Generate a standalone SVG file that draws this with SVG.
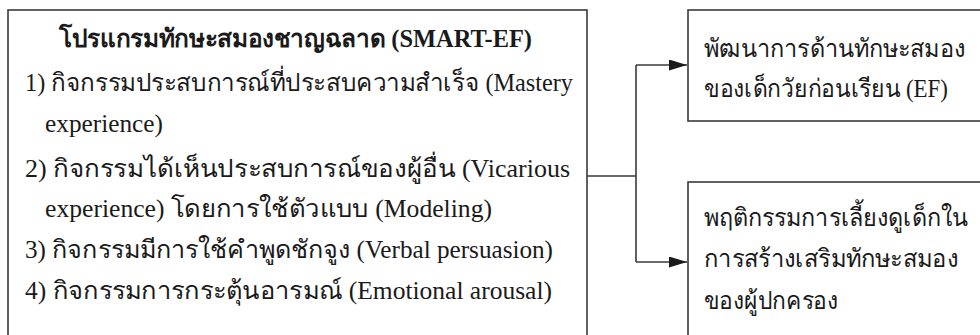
<svg xmlns="http://www.w3.org/2000/svg" width="980" height="335" viewBox="0 0 980 335">
<defs>
<style>
.box{fill:#fff;stroke:#3a3a3a;stroke-width:1.6}
.t{font-family:"Liberation Serif","DejaVu Serif",serif;font-size:25px;fill:#1a1a1a}
.b{font-weight:bold}
.c{fill:none;stroke:#3a3a3a;stroke-width:1.6}
</style>
<marker id="ah" viewBox="0 0 18 11" refX="18" refY="5.5" markerWidth="18" markerHeight="11" markerUnits="userSpaceOnUse" orient="auto">
<path d="M0,0 L18,5.5 L0,11 Z" fill="#1a1a1a"/>
</marker>
</defs>
<rect width="980" height="335" fill="#fff"/>
<g id="program">
<rect class="box" x="8" y="10" width="579" height="340"/>
<text class="t b" x="59" y="47" textLength="473" lengthAdjust="spacingAndGlyphs">โปรแกรมทักษะสมองชาญฉลาด (SMART-EF)</text>
<text class="t" x="25" y="91" textLength="548" lengthAdjust="spacingAndGlyphs">1) กิจกรรมประสบการณ์ที่ประสบความสำเร็จ (Mastery</text>
<text class="t" x="45" y="132" textLength="118" lengthAdjust="spacingAndGlyphs">experience)</text>
<text class="t" x="25" y="177" textLength="545" lengthAdjust="spacingAndGlyphs">2) กิจกรรมได้เห็นประสบการณ์ของผู้อื่น  (Vicarious</text>
<text class="t" x="45" y="217" textLength="447" lengthAdjust="spacingAndGlyphs">experience) โดยการใช้ตัวแบบ (Modeling)</text>
<text class="t" x="25" y="258" textLength="528" lengthAdjust="spacingAndGlyphs">3) กิจกรรมมีการใช้คำพูดชักจูง (Verbal persuasion)</text>
<text class="t" x="25" y="299" textLength="527" lengthAdjust="spacingAndGlyphs">4) กิจกรรมการกระตุ้นอารมณ์ (Emotional arousal)</text>
</g>
<g id="ef">
<rect class="box" x="688" y="10" width="300" height="111"/>
<text class="t" x="704" y="57" textLength="261" lengthAdjust="spacingAndGlyphs">พัฒนาการด้านทักษะสมอง</text>
<text class="t" x="704" y="97" textLength="244" lengthAdjust="spacingAndGlyphs">ของเด็กวัยก่อนเรียน (EF)</text>
</g>
<g id="parenting">
<rect class="box" x="688" y="182" width="300" height="170"/>
<text class="t" x="704" y="226" textLength="264" lengthAdjust="spacingAndGlyphs">พฤติกรรมการเลี้ยงดูเด็กใน</text>
<text class="t" x="704" y="267" textLength="254" lengthAdjust="spacingAndGlyphs">การสร้างเสริมทักษะสมอง</text>
<text class="t" x="704" y="309" textLength="134" lengthAdjust="spacingAndGlyphs">ของผู้ปกครอง</text>
</g>
<g id="connectors">
<path class="c" d="M587,176 H636 M636,65 V262"/>
<path class="c" d="M636,65 H687" marker-end="url(#ah)"/>
<path class="c" d="M636,262 H687" marker-end="url(#ah)"/>
</g>
</svg>
